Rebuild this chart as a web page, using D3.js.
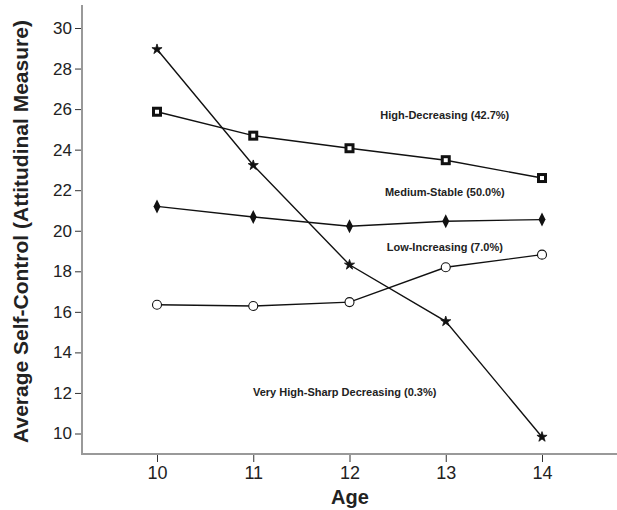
<!DOCTYPE html>
<html>
<head>
<meta charset="utf-8">
<script src="https://cdn.jsdelivr.net/npm/d3@7"></script>
<style>
  body { margin: 0; background: #fff; }
  svg { display: block; font-family: "Liberation Sans", Arial, sans-serif; }
</style>
</head>
<body>
<svg id="chart"></svg>
<script>
// Data
const ages = [10, 11, 12, 13, 14];
const highDecreasing = [25.87, 24.69, 24.07, 23.48, 22.6];
const mediumStable = [21.2, 20.68, 20.22, 20.47, 20.55];
const lowIncreasing = [16.35, 16.29, 16.48, 18.2, 18.82];
const veryHighSharp = [28.95, 23.23, 18.32, 15.53, 9.83];
const yTicks = [10, 12, 14, 16, 18, 20, 22, 24, 26, 28, 30];
const groupLabels = ["High-Decreasing (42.7%)", "Medium-Stable (50.0%)", "Low-Increasing (7.0%)", "Very High-Sharp Decreasing (0.3%)"];

const svgWidth = 617;
const svgHeight = 510;

const svg = d3.select("#chart")
    .attr("width", svgWidth)
    .attr("height", svgHeight);

// Scales (axis box runs from x=82 to the right edge, y=5 to 454)
const xScale = d3.scaleLinear()
    .domain([10, 14])
    .range([157, 542]);

const yScale = d3.scaleLinear()
    .domain([10, 30])
    .range([433.5, 28]);

const plotLeft = 82, plotTop = 5, plotBottom = 454, plotRight = 617;

// Axis lines
svg.append("line")
    .attr("x1", plotLeft).attr("x2", plotLeft)
    .attr("y1", plotTop).attr("y2", plotBottom + 1)
    .attr("stroke", "#999").attr("stroke-width", 2);

svg.append("line")
    .attr("x1", plotLeft - 1).attr("x2", plotRight)
    .attr("y1", plotBottom).attr("y2", plotBottom)
    .attr("stroke", "#999").attr("stroke-width", 2);

// Y axis ticks
const yAxis = svg.append("g")
    .attr("transform", `translate(${plotLeft - 1},0)`)
    .call(d3.axisLeft(yScale).tickValues(yTicks).tickSize(6).tickPadding(3));
yAxis.select(".domain").remove();
yAxis.selectAll(".tick line").attr("stroke", "#333");
yAxis.selectAll("text")
    .attr("fill", "#222")
    .style("font-size", "17px")
    .style("font-family", "'Liberation Sans', Arial, sans-serif");

// X axis ticks
const xAxis = svg.append("g")
    .attr("transform", `translate(0,${plotBottom + 1})`)
    .call(d3.axisBottom(xScale).tickValues(ages).tickFormat(d3.format("d")).tickSize(7).tickPadding(4));
xAxis.select(".domain").remove();
xAxis.selectAll(".tick line").attr("stroke", "#333");
xAxis.selectAll("text")
    .attr("fill", "#222")
    .style("font-size", "18px")
    .style("font-family", "'Liberation Sans', Arial, sans-serif");

// Axis titles
svg.append("text")
    .attr("x", 350)
    .attr("y", 504)
    .attr("text-anchor", "middle")
    .style("font-size", "20px")
    .style("font-weight", "bold")
    .attr("fill", "#222")
    .text("Age");

svg.append("text")
    .attr("transform", `translate(28,${(plotTop + plotBottom) / 2 + 2}) rotate(-90)`)
    .attr("text-anchor", "middle")
    .style("font-size", "21px")
    .style("font-weight", "bold")
    .attr("fill", "#222")
    .text("Average Self-Control (Attitudinal Measure)");

// Lines
const line = d3.line()
    .x((d, i) => xScale(ages[i]))
    .y(d => yScale(d));

const seriesList = [highDecreasing, mediumStable, lowIncreasing, veryHighSharp];
seriesList.forEach(s => {
    svg.append("path")
        .datum(s)
        .attr("d", line)
        .attr("fill", "none")
        .attr("stroke", "#111")
        .attr("stroke-width", 1.4);
});

// Markers
// squares
svg.selectAll(".sq")
    .data(highDecreasing)
    .enter().append("rect")
    .attr("class", "sq")
    .attr("x", (d, i) => xScale(ages[i]) - 3.5)
    .attr("y", d => yScale(d) - 3.5)
    .attr("width", 7)
    .attr("height", 7)
    .attr("fill", "#fff")
    .attr("stroke", "#111")
    .attr("stroke-width", 3);

// diamonds
svg.selectAll(".dm")
    .data(mediumStable)
    .enter().append("path")
    .attr("class", "dm")
    .attr("d", "M0,-7L3.5,0L0,7L-3.5,0Z")
    .attr("transform", (d, i) => `translate(${xScale(ages[i])},${yScale(d)})`)
    .attr("fill", "#111");

// circles
svg.selectAll(".ci")
    .data(lowIncreasing)
    .enter().append("circle")
    .attr("class", "ci")
    .attr("cx", (d, i) => xScale(ages[i]))
    .attr("cy", d => yScale(d))
    .attr("r", 4.5)
    .attr("fill", "#fff")
    .attr("stroke", "#111")
    .attr("stroke-width", 1.1);

// stars
const star = d3.symbol().type(d3.symbolStar).size(32);
svg.selectAll(".st")
    .data(veryHighSharp)
    .enter().append("path")
    .attr("class", "st")
    .attr("d", star)
    .attr("transform", (d, i) => `translate(${xScale(ages[i])},${yScale(d)})`)
    .attr("fill", "#111")
    .attr("stroke", "#111")
    .attr("stroke-width", 0.8);

// Group labels, placed in data units
const labelAt = [[12.99, 25.7], [12.99, 21.9], [12.99, 19.2], [11.95, 12.05]];
svg.selectAll(".lbl")
    .data(groupLabels)
    .enter().append("text")
    .attr("class", "lbl")
    .attr("x", (d, i) => xScale(labelAt[i][0]))
    .attr("y", (d, i) => yScale(labelAt[i][1]))
    .attr("dy", "0.35em")
    .attr("text-anchor", "middle")
    .style("font-size", "11px")
    .style("font-weight", "bold")
    .attr("fill", "#222")
    .text(d => d);
</script>
</body>
</html>
